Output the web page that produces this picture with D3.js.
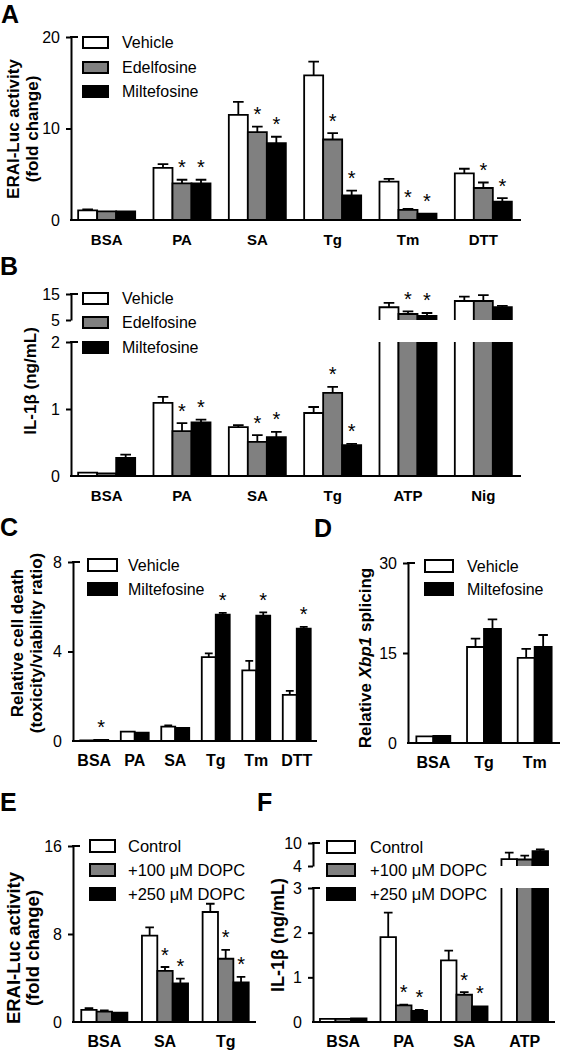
<!DOCTYPE html>
<html><head><meta charset="utf-8">
<script src="https://cdn.jsdelivr.net/npm/d3@7"></script>
<style>
body{margin:0;background:#fff}
svg{display:block}
text{font-family:"Liberation Sans",Arial,Helvetica,sans-serif;fill:#000}
</style>
</head><body>
<svg id="chart" width="561" height="1050"></svg>
<script>
// ---------------- DATA ----------------
// Panel A: ERAI-Luc activity (fold change)
const catsA = ["BSA","PA","SA","Tg","Tm","DTT"];
const seriesA = ["Vehicle","Edelfosine","Miltefosine"];
const vehicleA = [1.05, 5.7, 11.5, 15.8, 4.2, 5.1];
const vehicleA_err = [0.1, 0.4, 1.4, 1.5, 0.3, 0.5];
const edelA = [0.95, 4.0, 9.6, 8.8, 1.1, 3.5];
const edelA_err = [0.05, 0.4, 0.6, 0.7, 0.1, 0.6];
const miltA = [0.95, 4.0, 8.4, 2.7, 0.7, 2.0];
const miltA_err = [0.05, 0.4, 0.7, 0.5, 0.05, 0.4];
const starsA_edel = [0,1,1,1,1,1];
const starsA_milt = [0,1,1,1,1,1];
const ticksA = [0,10,20];

// Panel B: IL-1β (ng/mL), broken axis
const catsB = ["BSA","PA","SA","Tg","ATP","Nig"];
const seriesB = ["Vehicle","Edelfosine","Miltefosine"];
const vehicleB = [0.05, 1.09, 0.73, 0.94, 9.9, 12.3];
const vehicleB_err = [0.01, 0.09, 0.03, 0.09, 1.7, 1.7];
const edelB = [0.04, 0.67, 0.51, 1.24, 7.3, 12.3];
const edelB_err = [0.005, 0.12, 0.1, 0.09, 1.0, 2.3];
const miltB = [0.27, 0.80, 0.58, 0.46, 6.6, 9.9];
const miltB_err = [0.05, 0.04, 0.08, 0.02, 1.1, 0.5];
const starsB_edel = [0,1,1,1,1,0];
const starsB_milt = [0,1,1,1,1,0];
const ticksB_low = [0,1,2];
const ticksB_high = [5,15];

// Panel C: relative cell death
const catsC = ["BSA","PA","SA","Tg","Tm","DTT"];
const seriesC = ["Vehicle","Miltefosine"];
const vehicleC = [0.03, 0.42, 0.64, 3.75, 3.16, 2.06];
const vehicleC_err = [0.01, 0.03, 0.06, 0.17, 0.42, 0.18];
const miltC = [0.05, 0.37, 0.58, 5.65, 5.6, 5.02];
const miltC_err = [0.01, 0.03, 0.03, 0.08, 0.15, 0.08];
const starsC_milt = [1,0,0,1,1,1];
const ticksC = [0,4,8];

// Panel D: relative Xbp1 splicing
const catsD = ["BSA","Tg","Tm"];
const seriesD = ["Vehicle","Miltefosine"];
const vehicleD = [1.1, 16.0, 14.2];
const vehicleD_err = [0.1, 1.4, 1.5];
const miltD = [1.2, 19.0, 16.0];
const miltD_err = [0.1, 1.6, 2.0];
const ticksD = [0,15,30];

// Panel E: ERAI-Luc activity with DOPC
const catsE = ["BSA","SA","Tg"];
const seriesE = ["Control","+100 μM DOPC","+250 μM DOPC"];
const controlE = [1.1, 7.85, 10.0];
const controlE_err = [0.15, 0.75, 0.75];
const dopc100E = [0.95, 4.65, 5.75];
const dopc100E_err = [0.1, 0.35, 0.8];
const dopc250E = [0.85, 3.5, 3.6];
const dopc250E_err = [0.05, 0.45, 0.5];
const starsE_100 = [0,1,1];
const starsE_250 = [0,1,1];
const ticksE = [0,8,16];

// Panel F: IL-1β (ng/mL) with DOPC, broken axis
const catsF = ["BSA","PA","SA","ATP"];
const seriesF = ["Control","+100 μM DOPC","+250 μM DOPC"];
const controlF = [0.07, 1.9, 1.38, 5.8];
const controlF_err = [0.01, 0.55, 0.22, 1.7];
const dopc100F = [0.07, 0.37, 0.61, 5.7];
const dopc100F_err = [0.01, 0.02, 0.06, 1.0];
const dopc250F = [0.08, 0.25, 0.35, 7.9];
const dopc250F_err = [0.01, 0.02, 0.01, 0.4];
const starsF_100 = [0,1,1,0];
const starsF_250 = [0,1,1,0];
const ticksF_low = [0,1,2,3];
const ticksF_high = [4,10];

// ---------------- DRAWING ----------------
const WHITE = "#ffffff", GRAY = "#808080", BLACK = "#000000";
const svg = d3.select("#chart");

function panel(cfg){
  const g = svg.append("g");
  const x = d3.scaleBand().domain(cfg.cats).range(cfg.xRange)
    .paddingInner(cfg.pad).paddingOuter(cfg.pad/2);
  const xs = d3.scaleBand().domain(d3.range(cfg.series.length)).range([0, x.bandwidth()]);
  const segs = cfg.segs.map(s => Object.assign({}, s,
    {y: d3.scaleLinear().domain([s.lo, s.hi]).range([s.y0, s.y1])}));
  function yOf(v){
    let seg = segs[0];
    segs.forEach(s => { if (v >= s.lo) seg = s; });
    return seg.y(Math.min(v, seg.hi));
  }
  const bw = xs.bandwidth();
  // bars
  cfg.series.forEach((name, si) => {
    cfg.values[si].forEach((v, ci) => {
      const bx = x(cfg.cats[ci]) + xs(si);
      segs.forEach((s, k) => {
        if (k > 0 && v <= s.lo) return;
        const top = Math.min(v, s.hi);
        const yb = s.y(s.lo), yt = s.y(top);
        g.append("rect").attr("x", bx).attr("y", yt).attr("width", bw)
          .attr("height", Math.max(0, yb - yt)).attr("fill", cfg.fills[si]);
        let p = `M${bx},${yb}V${yt}`;
        if (v <= s.hi) p += `H${bx + bw}`; else p += `M${bx + bw},${yt}`;
        p += `V${yb}`;
        g.append("path").attr("d", p).attr("fill", "none").attr("stroke", "#000")
          .attr("stroke-width", 1.8).attr("stroke-linejoin", "miter");
      });
      // error bar
      const e = cfg.errs[si][ci];
      const cx = bx + bw/2;
      const y1 = yOf(v), y2 = yOf(v + e);
      if (y1 - y2 > 0.8) {
        const cw = bw * 0.28;
        g.append("path").attr("d", `M${cx},${y1}V${y2}M${cx - cw},${y2}H${cx + cw}`)
          .attr("stroke", "#000").attr("stroke-width", 1.8).attr("fill", "none");
      }
      // star
      if (cfg.stars && cfg.stars[si] && cfg.stars[si][ci]) {
        g.append("text").attr("x", cx).attr("y", y2 - 17 + 11.5)
          .attr("text-anchor", "middle").attr("font-size", 20).text("*");
      }
    });
  });
  // y axis segments
  segs.forEach((s, k) => {
    const ax = g.append("g").attr("transform", `translate(${cfg.axisX},0)`)
      .call(d3.axisLeft(s.y).tickValues(s.ticks).tickSize(5).tickSizeOuter(0).tickPadding(6)
        .tickFormat(d3.format("d")));
    ax.select(".domain").attr("stroke-width", 2);
    ax.selectAll(".tick line").attr("stroke-width", 2);
    ax.selectAll(".tick text").attr("font-size", cfg.tickFs || 16)
      .style("font-family", '"Liberation Sans",Arial,sans-serif');
    // top tick extends to the right
    g.append("line").attr("x1", cfg.axisX - 1).attr("x2", cfg.axisX + 7)
      .attr("y1", s.y(s.hi)).attr("y2", s.y(s.hi)).attr("stroke", "#000").attr("stroke-width", 2);
    if (k === 0) {
      ax.selectAll(".tick").filter(d => d === s.lo).select("line").remove();
    }
  });
  // x axis
  const xa = g.append("g").attr("transform", `translate(0,${segs[0].y0})`)
    .call(d3.axisBottom(x).tickSize(0).tickPadding(14));
  xa.select(".domain").remove();
  xa.selectAll(".tick text").attr("font-size", cfg.catFs).attr("font-weight", "bold")
    .style("font-family", '"Liberation Sans",Arial,sans-serif');
  g.append("line").attr("x1", cfg.axisX - 1).attr("x2", cfg.xEnd)
    .attr("y1", segs[0].y0).attr("y2", segs[0].y0).attr("stroke", "#000").attr("stroke-width", 2);
  // legend
  cfg.series.forEach((name, si) => {
    const ly = cfg.legend.tops[si];
    g.append("rect").attr("x", cfg.legend.x).attr("y", ly).attr("width", cfg.legend.w)
      .attr("height", cfg.legend.h).attr("fill", cfg.fills[si]).attr("stroke", "#000").attr("stroke-width", 2);
    g.append("text").attr("x", cfg.legend.tx).attr("y", ly + cfg.legend.h/2)
      .attr("dominant-baseline", "central").attr("font-size", cfg.legend.fs).text(name);
  });
  // y label
  cfg.ylabel.lines.forEach((line, li) => {
    const t = g.append("text").attr("transform", `translate(${cfg.ylabel.xs[li]},${cfg.ylabel.cy}) rotate(-90)`)
      .attr("text-anchor", "middle").attr("dominant-baseline", "central")
      .attr("font-weight", "bold").attr("font-size", cfg.ylabel.fs);
    line.forEach(part => {
      t.append("tspan").attr("font-style", part.i ? "italic" : "normal").text(part.t);
    });
  });
  // panel letter
  g.append("text").attr("x", cfg.letter.x).attr("y", cfg.letter.y)
    .attr("font-size", 25).attr("font-weight", "bold").text(cfg.letter.t);
}

const fills3 = [WHITE, GRAY, BLACK];
const fills2 = [WHITE, BLACK];

panel({
  cats: catsA, series: seriesA, fills: fills3,
  values: [vehicleA, edelA, miltA], errs: [vehicleA_err, edelA_err, miltA_err],
  stars: [null, starsA_edel, starsA_milt],
  xRange: [69, 521], pad: 0.243, axisX: 71, xEnd: 521, catFs: 15,
  segs: [{lo: 0, hi: 20, y0: 220, y1: 37, ticks: ticksA}],
  legend: {x: 83, w: 25, h: 11, tops: [37, 62, 86], tx: 122, fs: 16},
  ylabel: {lines: [[{t: "ERAI-Luc activity"}], [{t: "(fold change)"}]], xs: [13, 32], cy: 129, fs: 17},
  letter: {t: "A", x: 1, y: 23}
});

panel({
  cats: catsB, series: seriesB, fills: fills3,
  values: [vehicleB, edelB, miltB], errs: [vehicleB_err, edelB_err, miltB_err],
  stars: [null, starsB_edel, starsB_milt],
  xRange: [69, 521], pad: 0.243, axisX: 71, xEnd: 521, catFs: 15,
  segs: [{lo: 0, hi: 2, y0: 476, y1: 342, ticks: ticksB_low},
         {lo: 5, hi: 15, y0: 320, y1: 294, ticks: ticksB_high}],
  legend: {x: 83, w: 25, h: 11, tops: [293, 317, 342], tx: 122, fs: 16},
  ylabel: {lines: [[{t: "IL-1β (ng/mL)"}]], xs: [30], cy: 381, fs: 17},
  letter: {t: "B", x: 0, y: 275}
});

panel({
  cats: catsC, series: seriesC, fills: fills2,
  values: [vehicleC, miltC], errs: [vehicleC_err, miltC_err],
  stars: [null, starsC_milt],
  xRange: [74, 317], pad: 0.31, axisX: 73, xEnd: 317, catFs: 16,
  segs: [{lo: 0, hi: 8, y0: 741, y1: 562, ticks: ticksC}],
  legend: {x: 88, w: 29, h: 12, tops: [559, 583], tx: 128, fs: 16},
  ylabel: {lines: [[{t: "Relative cell death"}], [{t: "(toxicity/viability ratio)"}]], xs: [17, 36], cy: 643, fs: 17},
  letter: {t: "C", x: 0, y: 536}
});

panel({
  cats: catsD, series: seriesD, fills: fills2,
  values: [vehicleD, miltD], errs: [vehicleD_err, miltD_err],
  stars: null,
  xRange: [408, 560], pad: 0.33, axisX: 408, xEnd: 560, catFs: 16,
  segs: [{lo: 0, hi: 30, y0: 743, y1: 563, ticks: ticksD}],
  legend: {x: 425, w: 28, h: 12, tops: [560, 583], tx: 467, fs: 16},
  ylabel: {lines: [[{t: "Relative "}, {t: "Xbp1", i: true}, {t: " splicing"}]], xs: [365], cy: 658, fs: 17},
  letter: {t: "D", x: 314, y: 537}
});

panel({
  cats: catsE, series: seriesE, fills: fills3,
  values: [controlE, dopc100E, dopc250E], errs: [controlE_err, dopc100E_err, dopc250E_err],
  stars: [null, starsE_100, starsE_250],
  xRange: [74, 256], pad: 0.24, axisX: 73, xEnd: 256, catFs: 16,
  segs: [{lo: 0, hi: 16, y0: 1022, y1: 846, ticks: ticksE}],
  legend: {x: 90, w: 25, h: 12, tops: [840, 864, 888], tx: 128, fs: 16.5},
  ylabel: {lines: [[{t: "ERAI-Luc activity"}], [{t: "(fold change)"}]], xs: [13, 32], cy: 948, fs: 18.5},
  letter: {t: "E", x: 0, y: 811}
});

panel({
  cats: catsF, series: seriesF, fills: fills3,
  values: [controlF, dopc100F, dopc250F], errs: [controlF_err, dopc100F_err, dopc250F_err],
  stars: [null, starsF_100, starsF_250],
  xRange: [313, 555], pad: 0.23, axisX: 313, xEnd: 555, catFs: 16,
  segs: [{lo: 0, hi: 3, y0: 1022, y1: 888, ticks: ticksF_low},
         {lo: 4, hi: 10, y0: 866, y1: 843, ticks: ticksF_high}],
  legend: {x: 327, w: 28, h: 12, tops: [841, 864, 888], tx: 370, fs: 16.5},
  ylabel: {lines: [[{t: "IL-1β (ng/mL)"}]], xs: [278], cy: 935, fs: 18},
  letter: {t: "F", x: 257, y: 811}
});
</script>
</body></html>
